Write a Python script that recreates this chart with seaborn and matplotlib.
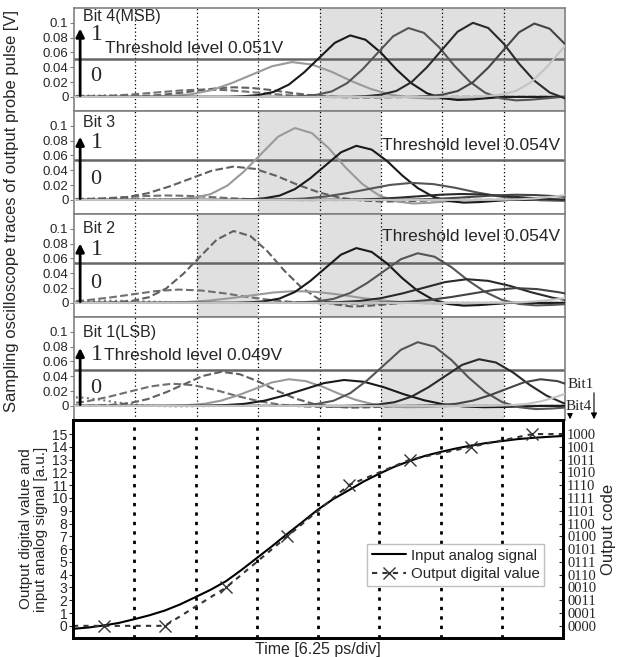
import matplotlib
matplotlib.use("Agg")
import matplotlib.pyplot as plt
import seaborn as sns

# ---- data ----
# common normalised pulse shape (offset in divisions -> relative height)
pulse_offsets = [-2.0, -1.75, -1.5, -1.25, -1.0, -0.75, -0.5, -0.25, 0.0, 0.25,
                 0.5, 0.75, 1.0, 1.25, 1.5, 1.75, 2.0, 2.25, 2.5]
pulse_shape = [0.0, 0.01, 0.03, 0.08, 0.2, 0.4, 0.64, 0.88, 1.0, 0.93,
               0.72, 0.45, 0.22, 0.06, -0.02, -0.05, -0.04, -0.02, 0.0]

# per bit: pulse centres [div], peak heights [V], width factors
bit4_centers = [0.5, 2.1, 2.6, 3.55, 4.5, 5.45, 6.5, 7.5, 8.45]
bit4_peaks = [0.002, 0.01, 0.013, 0.047, 0.083, 0.093, 0.1, 0.099, 0.1]
bit4_widths = [1.0, 1.4, 1.2, 1.3, 1.0, 1.0, 1.0, 1.0, 1.0]

bit3_centers = [0.5, 1.5, 2.6, 3.6, 4.6, 5.5, 6.3, 7.2, 8.5]
bit3_peaks = [0.002, 0.006, 0.045, 0.097, 0.073, 0.023, 0.008, 0.007, 0.01]
bit3_widths = [1.0, 1.3, 1.4, 1.1, 1.0, 1.4, 1.3, 1.3, 1.0]

bit2_centers = [0.5, 1.7, 2.6, 3.6, 4.6, 5.6, 6.4, 7.2, 8.5]
bit2_peaks = [0.003, 0.018, 0.097, 0.016, 0.074, 0.067, 0.032, 0.02, 0.01]
bit2_widths = [1.2, 1.5, 1.1, 1.4, 1.0, 1.1, 1.4, 1.4, 1.0]

bit1_centers = [-0.1, 1.6, 2.4, 3.5, 4.4, 5.6, 6.6, 7.6, 8.6]
bit1_peaks = [0.012, 0.03, 0.046, 0.036, 0.035, 0.086, 0.063, 0.036, 0.03]
bit1_widths = [1.0, 1.4, 1.2, 1.1, 1.3, 1.1, 1.1, 1.1, 1.0]

bit_names = ["Bit 4(MSB)", "Bit 3", "Bit 2", "Bit 1(LSB)"]
thresholds = [0.051, 0.054, 0.054, 0.049]
high_spans = [[(4, 8)], [(3, 5)], [(2, 3), (4, 6)], [(5, 7)]]

analog_t = [0, 0.25, 0.5, 0.75, 1, 1.25, 1.5, 1.75, 2, 2.25, 2.5, 2.75, 3, 3.25,
            3.5, 3.75, 4, 4.25, 4.5, 4.75, 5, 5.25, 5.5, 5.75, 6, 6.25, 6.5,
            6.75, 7, 7.25, 7.5, 7.75, 8]
analog_v = [-0.23, -0.13, 0.03, 0.23, 0.52, 0.83, 1.2, 1.68, 2.25, 2.83, 3.5,
            4.37, 5.3, 6.23, 7.2, 8.14, 9.1, 9.92, 10.6, 11.3, 11.9, 12.45,
            12.9, 13.3, 13.6, 13.87, 14.1, 14.3, 14.45, 14.6, 14.7, 14.78, 14.85]
digital_t = [0, 0.5, 1.5, 2.5, 3.5, 4.5, 5.5, 6.5, 7.5, 8]
digital_v = [0, 0, 0, 3, 7, 11, 13, 14, 15, 15]
output_codes = ["0000", "0001", "0011", "0010", "0110", "0111", "0101", "0100",
                "1100", "1101", "1111", "1110", "1010", "1011", "1001", "1000"]

# styles of the nine sampled pulses
trace_colors = ["#777777", "#707070", "#606060", "#9a9a9a", "#1a1a1a",
                "#555555", "#2a2a2a", "#444444", "#c4c4c4"]
trace_styles = [":", "--", "--", "-", "-", "-", "-", "-", "-"]

sns.set_style("ticks")
plt.rcParams["font.family"] = ["Liberation Sans", "DejaVu Sans"]
SERIF = "Liberation Serif"

W, H = 617, 657
fig = plt.figure(figsize=(W / 100, H / 100), dpi=100)


def px_axes(l, t, r, b):
    return fig.add_axes([l / W, 1 - b / H, (r - l) / W, (b - t) / H])


panels = [
    (bit4_centers, bit4_peaks, bit4_widths),
    (bit3_centers, bit3_peaks, bit3_widths),
    (bit2_centers, bit2_peaks, bit2_widths),
    (bit1_centers, bit1_peaks, bit1_widths),
]

# text placement inside each panel (y in V)
name_y = [0.109, 0.104, 0.101, 0.099]
one_y = [0.084, 0.077, 0.072, 0.070]
zero_y = [0.027, 0.028, 0.026, 0.024]
thr_pos = [(0.5, 0.066), (5.02, 0.073), (5.02, 0.090), (0.49, 0.068)]

for i, (centers, peaks, widths) in enumerate(panels):
    top = 8 + 103 * i
    ax = px_axes(74, top, 565, top + 103)
    ax.set_xlim(0, 8)
    ax.set_ylim(-0.019, 0.120)

    for a, b in high_spans[i]:
        ax.axvspan(a, b, color="#e0e0e0", zorder=0, lw=0)
    for d in range(1, 8):
        ax.axvline(d, color="black", lw=0.9, ls=(0, (1, 2)), zorder=1)

    for k in range(len(centers)):
        xs = [-2] + [centers[k] + o * widths[k] for o in pulse_offsets] + [11]
        ys = [0] + [peaks[k] * s for s in pulse_shape] + [0]
        sns.lineplot(x=xs, y=ys, ax=ax, color=trace_colors[k],
                     linestyle=trace_styles[k], lw=1.5, sort=False, zorder=3)

    ax.axhline(thresholds[i], color="#666666", lw=1.8, zorder=2)

    ax.text(0.15, name_y[i], bit_names[i], fontsize=11.5, va="center", ha="left")
    ax.annotate("", xy=(0.1, one_y[i] + 0.012), xytext=(0.1, -0.002),
                arrowprops=dict(arrowstyle="-|>", lw=2, color="black",
                                mutation_scale=12))
    ax.text(0.27, one_y[i], "1", family=SERIF, fontsize=17, va="center")
    ax.text(0.27, zero_y[i], "0", family=SERIF, fontsize=16, va="center")
    ax.text(thr_pos[i][0], thr_pos[i][1], "Threshold level %.3fV" % thresholds[i],
            fontsize=12.5, va="center", ha="left", zorder=5)

    ax.set_xticks([])
    ax.set_yticks([0, 0.02, 0.04, 0.06, 0.08, 0.1])
    ax.set_yticklabels(["0", "0.02", "0.04", "0.06", "0.08", "0.1"])
    ax.tick_params(axis="y", length=3, width=0.8, color="#808080",
                   labelsize=9.5, pad=1)
    for sp in ax.spines.values():
        sp.set_visible(True)
        sp.set_color("#808080")
        sp.set_linewidth(1.2)

fig.text(12 / W, 1 - 211 / H,
         "Sampling oscilloscope traces of output probe pulse [V]",
         rotation=90, ha="center", va="center", fontsize=12)

# ---- bottom panel ----
ax = px_axes(73, 420, 563, 638)
ax.set_xlim(0, 8)
ax.set_ylim(-0.95, 16.1)
for d in range(1, 8):
    ax.axvline(d, color="black", lw=2, ls=(0, (1.2, 2.2)), zorder=1)

sns.lineplot(x=analog_t, y=analog_v, ax=ax, color="black", lw=1.5,
             label="Input analog signal", zorder=3)
sns.lineplot(x=digital_t, y=digital_v, ax=ax, color="#333333", lw=1.5,
             linestyle=(0, (2.5, 2.5)), marker="x", markersize=8,
             markeredgewidth=1.0, markeredgecolor="#333333",
             markevery=list(range(1, 9)),
             label="Output digital value", sort=False, zorder=3)

ax.set_xticks([])
ax.set_yticks(range(16))
ax.tick_params(axis="y", length=3, width=0.8, labelsize=10, pad=1)
ax.set_xlabel("Time [6.25 ps/div]", fontsize=11.5, labelpad=3)
ax.set_ylabel("Output digital value and\ninput analog signal [a.u.]",
              fontsize=11, labelpad=3, linespacing=1.1)
for sp in ax.spines.values():
    sp.set_color("black")
    sp.set_linewidth(2)

ax.legend(loc="lower right", bbox_to_anchor=(0.977, 0.206), fontsize=10.8,
          frameon=True, fancybox=False, edgecolor="#c0c0c0", framealpha=1,
          handlelength=2.3, borderpad=0.3, labelspacing=0.3, handletextpad=0.3)

twin = ax.twinx()
twin.set_ylim(-0.95, 16.1)
twin.set_yticks(range(16))
twin.set_yticklabels(output_codes, family=SERIF, fontsize=10.5)
twin.tick_params(axis="y", direction="in", length=3, width=0.8, pad=3)
twin.set_ylabel("Output code", fontsize=12, labelpad=3)
for sp in twin.spines.values():
    sp.set_color("black")
    sp.set_linewidth(2)

# Bit1 / Bit4 markers at the right
fig.text(568 / W, 1 - 385 / H, "Bit1", family=SERIF, fontsize=11, va="center")
fig.text(566 / W, 1 - 407 / H, "Bit4", family=SERIF, fontsize=11, va="center")
fig.add_artist(matplotlib.patches.FancyArrowPatch(
    (594 / W, 1 - 390 / H), (594 / W, 1 - 422 / H), transform=fig.transFigure,
    arrowstyle="-|>", mutation_scale=9, color="black", lw=0.8))
fig.add_artist(matplotlib.patches.FancyArrowPatch(
    (570 / W, 1 - 413 / H), (570 / W, 1 - 422 / H), transform=fig.transFigure,
    arrowstyle="-|>", mutation_scale=8, color="black", lw=0.8))

fig.savefig("out.png", dpi=100)
